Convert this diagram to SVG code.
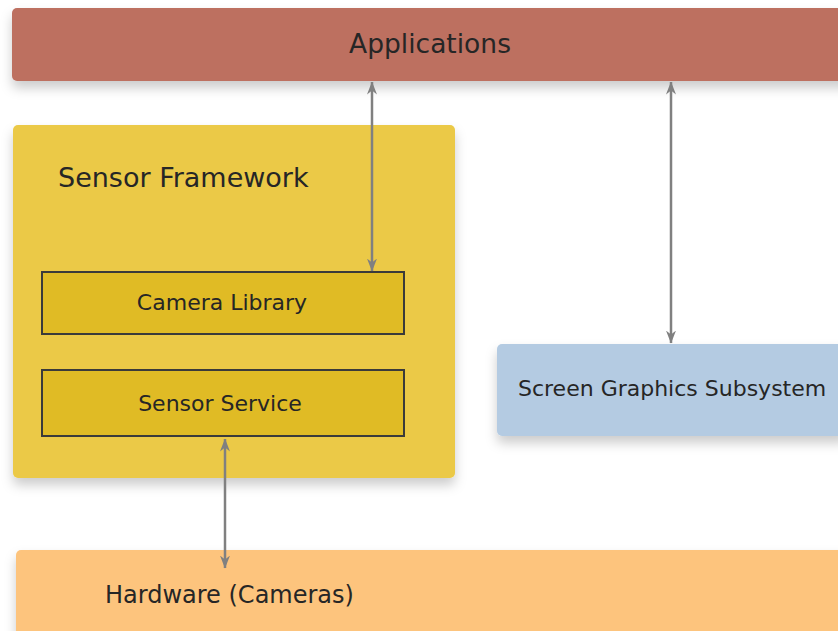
<svg xmlns="http://www.w3.org/2000/svg" width="838" height="631" viewBox="0 0 838 631">
  <defs>
    <filter id="shadow" x="-10%" y="-20%" width="120%" height="160%">
      <feDropShadow dx="0" dy="7" stdDeviation="6" flood-color="#000" flood-opacity="0.2"/>
    </filter>
    <marker id="arrow" viewBox="0 0 13 10" refX="12.5" refY="5" markerWidth="13" markerHeight="10" markerUnits="userSpaceOnUse" orient="auto-start-reverse">
      <path d="M0,0 L13,5 L0,10 L4,5 Z" fill="#808080"/>
    </marker>
    <style>
      text { font-family: "DejaVu Sans", Verdana, sans-serif; fill: #262626; }
      .big { font-size: 26.5px; }
      .mid { font-size: 22px; }
      .inner { fill: #e0bb25; stroke: #3a3a3a; stroke-width: 2; }
      .conn { stroke: #808080; stroke-width: 2.5; fill: none; marker-start: url(#arrow); marker-end: url(#arrow); }
    </style>
  </defs>
  <rect width="838" height="631" fill="#ffffff"/>

  <g id="applications">
    <rect x="12" y="8" width="840" height="73" rx="5" fill="#bd6f61" filter="url(#shadow)"/>
    <text class="big" x="430" y="53" text-anchor="middle">Applications</text>
  </g>

  <g id="sensor-framework">
    <rect x="13" y="125" width="442" height="353" rx="5" fill="#ebc947" filter="url(#shadow)"/>
    <text class="big" x="58" y="187" style="font-size:27px">Sensor Framework</text>
  </g>

  <g id="camera-library">
    <rect class="inner" x="42" y="272" width="362" height="62"/>
    <text class="mid" x="222" y="310" text-anchor="middle">Camera Library</text>
  </g>

  <g id="sensor-service">
    <rect class="inner" x="42" y="370" width="362" height="66"/>
    <text class="mid" x="220" y="411" text-anchor="middle">Sensor Service</text>
  </g>

  <g id="screen-graphics">
    <rect x="497" y="344" width="350" height="92" rx="5" fill="#b4cbe2" filter="url(#shadow)"/>
    <text class="mid" x="518" y="396">Screen Graphics Subsystem</text>
  </g>

  <g id="hardware">
    <rect x="16" y="550" width="840" height="90" rx="5" fill="#fdc47d" filter="url(#shadow)"/>
    <text class="mid" x="105" y="603" style="font-size:24px">Hardware (Cameras)</text>
  </g>

  <g id="connectors">
    <line class="conn" x1="372" y1="82" x2="372" y2="271"/>
    <line class="conn" x1="671" y1="82" x2="671" y2="343"/>
    <line class="conn" x1="225" y1="439" x2="225" y2="568"/>
  </g>
</svg>
